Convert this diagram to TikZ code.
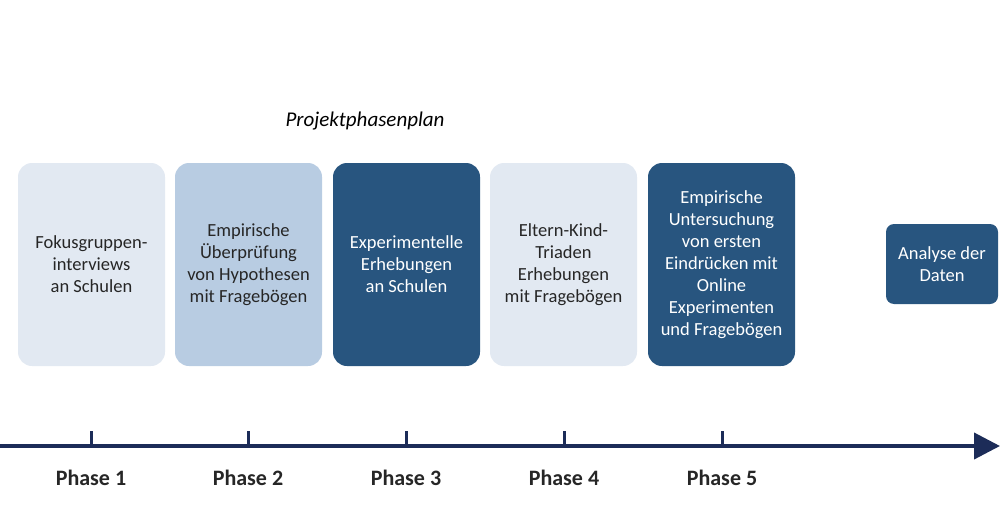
\documentclass[tikz,border=0pt]{standalone}
\usepackage{fontspec}
\setmainfont{Carlito}
\usetikzlibrary{arrows.meta}
\definecolor{boxlight}{HTML}{E2E9F2}
\definecolor{boxmid}{HTML}{B8CCE2}
\definecolor{boxdark}{HTML}{28557F}
\definecolor{axisnavy}{HTML}{1C2C58}
\tikzset{every picture/.style={line width=0.75pt}}
\tikzset{
  phase/.style={rounded corners=14pt, minimum width=147pt, minimum height=203pt, align=center, font=\fontsize{18.5}{22}\selectfont, inner sep=0pt},
  light/.style={phase, fill=boxlight, text=black!85},
  mid/.style={phase, fill=boxmid, text=black!85},
  dark/.style={phase, fill=boxdark, text=white},
  tick/.style={draw=axisnavy, line width=3pt},
  plabel/.style={font=\bfseries\fontsize{22}{24}\selectfont, text=black!85}
}
\begin{document}
\begin{tikzpicture}[x=1pt,y=1pt,yscale=-1,xscale=1]
\useasboundingbox (0,0) rectangle (1000,527);

% Title
\node (title) at (365,121) {\itshape\fontsize{21}{24}\selectfont Projektphasenplan};

% Phase boxes
\node[light] (box1) at (91.5,264.5) {Fokusgruppen-\\interviews\\an Schulen};
\node[mid] (box2) at (248.5,264.5) {Empirische\\Überprüfung\\von Hypothesen\\mit Fragebögen};
\node[dark] (box3) at (406.5,264.5) {Experimentelle\\Erhebungen\\an Schulen};
\node[light] (box4) at (563.5,264.5) {Eltern-Kind-\\Triaden\\Erhebungen\\mit Fragebögen};
\node[dark] (box5) at (721.5,264.5) {Empirische\\Untersuchung\\von ersten\\Eindrücken mit\\Online\\Experimenten\\und Fragebögen};
\node[dark, minimum width=112pt, minimum height=80pt, rounded corners=8pt] (box6) at (942,264) {Analyse der\\Daten};

% Timeline
\coordinate (tstart) at (0,446);
\coordinate (tend) at (1000,446);
\draw[axisnavy, line width=4pt, -{Triangle[length=26pt,width=26pt]}] (tstart) -- (tend);

\foreach \x/\n in {91/1, 248/2, 406/3, 564/4, 722/5}{
  \draw[tick] (\x,431) -- (\x,446);
  \node[plabel] (phase\n) at (\x,478) {Phase \n};
}

\end{tikzpicture}
\end{document}
